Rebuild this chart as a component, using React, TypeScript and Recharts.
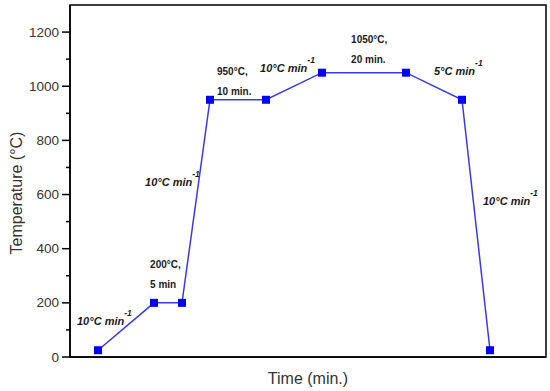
import React from 'react';
import { LineChart, Line, XAxis, YAxis, ReferenceDot, ReferenceArea } from 'recharts';

const timeValues = [1, 3, 4, 5, 7, 9, 12, 14, 15];
const tempValues = [25, 200, 200, 950, 950, 1050, 1050, 950, 25];
const yTicks = [0, 100, 200, 300, 400, 500, 600, 700, 800, 900, 1000, 1100, 1200];
const yLabelledTicks = [0, 200, 400, 600, 800, 1000, 1200];
const xDomain = [0, 17];
const yDomain = [0, 1300];

const rateLabels = [
  { x: 0.25, y: 133, text: '10°C min', sup: '-1' },
  { x: 2.68, y: 646, text: '10°C min', sup: '-1' },
  { x: 6.79, y: 1067, text: '10°C min', sup: '-1' },
  { x: 13.0, y: 1056, text: '5°C min', sup: '-1' },
  { x: 14.75, y: 576, text: '10°C min', sup: '-1' },
];

const holdLabels = [
  { x: 2.86, y: 343, first: '200°C,', second: '5 min' },
  { x: 5.25, y: 1056, first: '950°C,', second: '10 min.' },
  { x: 10.04, y: 1174, first: '1050°C,', second: '20 min.' },
];

const data = timeValues.map((t, i) => ({ time: t, temp: tempValues[i] }));

const FONT = 'Liberation Sans, Arial, sans-serif';

const SquareDot = (props: any) => {
  const { cx, cy } = props;
  if (cx == null || cy == null) return null;
  return <rect x={cx - 4} y={cy - 4} width={8} height={8} fill="#0000ff" />;
};

const YTick = (props: any) => {
  const { x, y, payload } = props;
  const v = payload.value;
  const major = yLabelledTicks.includes(v);
  return (
    <g>
      <line x1={x - (major ? 8 : 4)} x2={x} y1={y} y2={y} stroke="#000" strokeWidth={1.5} />
      {major && (
        <text x={x - 11} y={y} textAnchor="end" dominantBaseline="central" fontSize={13.5} fill="#333" fontFamily={FONT}>
          {v}
        </text>
      )}
    </g>
  );
};

const RateLabel = (item: any) => (props: any) => {
  const { viewBox } = props;
  const x = viewBox.x + (viewBox.width || 0) / 2;
  const y = viewBox.y + (viewBox.height || 0) / 2;
  return (
    <text x={x} y={y} dominantBaseline="central" fontFamily={FONT} fontWeight="bold" fontStyle="italic" fontSize={11} fill="#1a1a1a">
      {item.text}
      <tspan dy={-8} fontSize={8.5}>{item.sup}</tspan>
    </text>
  );
};

const HoldLabel = (item: any) => (props: any) => {
  const { viewBox } = props;
  const x = viewBox.x + (viewBox.width || 0) / 2;
  const y = viewBox.y + (viewBox.height || 0) / 2;
  return (
    <g>
      <text x={x} y={y} dominantBaseline="central" fontFamily={FONT} fontWeight="bold" fontSize={10} fill="#1a1a1a">
        {item.first}
      </text>
      <text x={x} y={y + 20} dominantBaseline="central" fontFamily={FONT} fontWeight="bold" fontSize={10} fill="#1a1a1a">
        {item.second}
      </text>
    </g>
  );
};

const XTitle = (props: any) => {
  const { viewBox } = props;
  return (
    <text x={viewBox.x + viewBox.width / 2} y={viewBox.y + 21} textAnchor="middle" dominantBaseline="central" fontFamily={FONT} fontSize={16} fill="#333">
      Time (min.)
    </text>
  );
};

const YTitle = (props: any) => {
  const { viewBox } = props;
  const cx = 16;
  const cy = viewBox.y + viewBox.height / 2 + 12;
  return (
    <text x={cx} y={cy} transform={`rotate(-90, ${cx}, ${cy})`} textAnchor="middle" dominantBaseline="central" fontFamily={FONT} fontSize={16} fill="#333">
      Temperature (°C)
    </text>
  );
};

export default function App() {
  return (
    <div style={{ position: 'absolute', left: 0, top: 0, width: 550, height: 391, background: '#fff' }}>
      <LineChart width={550} height={391} data={data} margin={{ top: 5, right: 4, left: 0, bottom: 0 }}>
        <XAxis
          dataKey="time"
          type="number"
          domain={xDomain}
          tick={false}
          tickLine={false}
          height={34}
          axisLine={{ stroke: '#000', strokeWidth: 1.5 }}
          label={<XTitle />}
        />
        <YAxis
          type="number"
          domain={yDomain}
          ticks={yTicks}
          interval={0}
          tick={<YTick />}
          tickLine={false}
          tickSize={0}
          tickMargin={0}
          width={70}
          axisLine={{ stroke: '#000', strokeWidth: 1.5 }}
          label={<YTitle />}
        />
        <ReferenceArea
          x1={xDomain[0]}
          x2={xDomain[1]}
          y1={yDomain[0]}
          y2={yDomain[1]}
          fill="none"
          fillOpacity={0}
          stroke="#000"
          strokeWidth={1.5}
          strokeOpacity={1}
        />
        <Line
          type="linear"
          dataKey="temp"
          stroke="#3a3ae6"
          strokeWidth={1.5}
          dot={<SquareDot />}
          activeDot={false}
          isAnimationActive={false}
        />
        {rateLabels.map((r, i) => (
          <ReferenceDot key={'r' + i} x={r.x} y={r.y} r={0} fill="none" stroke="none" label={RateLabel(r)} />
        ))}
        {holdLabels.map((h, i) => (
          <ReferenceDot key={'h' + i} x={h.x} y={h.y} r={0} fill="none" stroke="none" label={HoldLabel(h)} />
        ))}
      </LineChart>
    </div>
  );
}
